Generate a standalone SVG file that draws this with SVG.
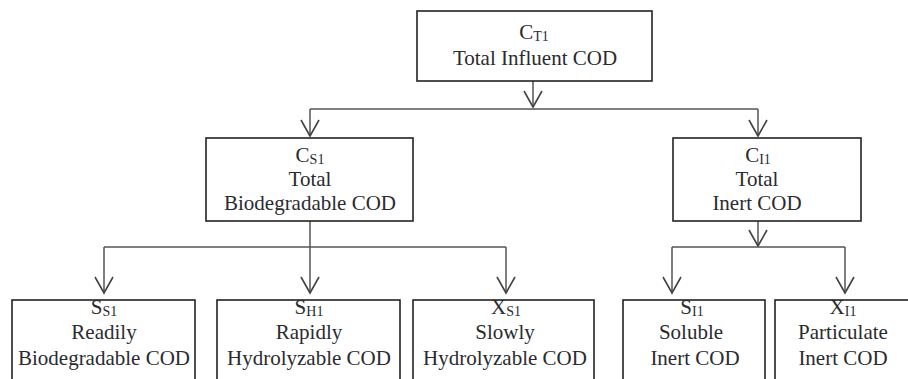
<svg xmlns="http://www.w3.org/2000/svg" width="908" height="379" viewBox="0 0 908 379">
<style>
.box{fill:#fff;stroke:#222;stroke-width:1.6}
.t{font-family:"Liberation Serif","Times New Roman",serif;font-size:21px;fill:#2b2b2f;text-anchor:middle}
.s{font-size:14px}
.c{fill:none;stroke:#555;stroke-width:1.5}
</style>
<defs>
<marker id="v" markerUnits="userSpaceOnUse" markerWidth="24" markerHeight="24" viewBox="-18 -12 20 24" refX="0" refY="0" orient="auto" overflow="visible">
<path d="M-16,-9 L0,0 L-16,9" fill="none" stroke="#444" stroke-width="1.6"/>
</marker>
</defs>
<rect width="908" height="379" fill="#fff"/>
<g id="connectors">
<line class="c" x1="533" y1="81" x2="533" y2="107" marker-end="url(#v)"/>
<line class="c" x1="310" y1="109" x2="758" y2="109" stroke="#333"/>
<line class="c" x1="310" y1="109" x2="310" y2="136" marker-end="url(#v)"/>
<line class="c" x1="758" y1="109" x2="758" y2="136" marker-end="url(#v)"/>
<line class="c" x1="310" y1="221" x2="310" y2="293" marker-end="url(#v)"/>
<line class="c" x1="104" y1="247" x2="506" y2="247" stroke="#333"/>
<line class="c" x1="104" y1="247" x2="104" y2="293" marker-end="url(#v)"/>
<line class="c" x1="506" y1="247" x2="506" y2="293" marker-end="url(#v)"/>
<line class="c" x1="758" y1="221" x2="758" y2="246" marker-end="url(#v)"/>
<line class="c" x1="672" y1="247" x2="845" y2="247" stroke="#333"/>
<line class="c" x1="672" y1="247" x2="672" y2="293" marker-end="url(#v)"/>
<line class="c" x1="845" y1="247" x2="845" y2="293" marker-end="url(#v)"/>
</g>
<g id="CT1">
<rect class="box" x="417" y="11" width="235" height="70"/>
<text class="t" x="534" y="39">C<tspan class="s" dy="2">T1</tspan></text>
<text class="t" x="535" y="65">Total Influent COD</text>
</g>
<g id="CS1">
<rect class="box" x="206" y="138" width="207" height="83"/>
<text class="t" x="310" y="162">C<tspan class="s" dy="2">S1</tspan></text>
<text class="t" x="310" y="186">Total</text>
<text class="t" x="310" y="210">Biodegradable COD</text>
</g>
<g id="CI1">
<rect class="box" x="673" y="138" width="188" height="83"/>
<text class="t" x="758" y="162">C<tspan class="s" dy="2">I1</tspan></text>
<text class="t" x="757" y="186">Total</text>
<text class="t" x="757" y="210">Inert COD</text>
</g>
<g id="SS1">
<rect class="box" x="12" y="300" width="183" height="90"/>
<text class="t" x="104" y="314">S<tspan class="s" dy="2">S1</tspan></text>
<text class="t" x="104" y="339">Readily</text>
<text class="t" x="104" y="365">Biodegradable COD</text>
</g>
<g id="SH1">
<rect class="box" x="217" y="300" width="183" height="90"/>
<text class="t" x="309" y="314">S<tspan class="s" dy="2">H1</tspan></text>
<text class="t" x="309" y="339">Rapidly</text>
<text class="t" x="309" y="365">Hydrolyzable COD</text>
</g>
<g id="XS1">
<rect class="box" x="413" y="300" width="181" height="90"/>
<text class="t" x="506" y="314">X<tspan class="s" dy="2">S1</tspan></text>
<text class="t" x="505" y="339">Slowly</text>
<text class="t" x="505" y="365">Hydrolyzable COD</text>
</g>
<g id="SI1">
<rect class="box" x="623" y="300" width="142" height="90"/>
<text class="t" x="692" y="314">S<tspan class="s" dy="2">I1</tspan></text>
<text class="t" x="691" y="339">Soluble</text>
<text class="t" x="695" y="365">Inert COD</text>
</g>
<g id="XI1">
<rect class="box" x="775" y="300" width="140" height="90"/>
<text class="t" x="843" y="314">X<tspan class="s" dy="2">I1</tspan></text>
<text class="t" x="843" y="339">Particulate</text>
<text class="t" x="843" y="365">Inert COD</text>
</g>
</svg>
